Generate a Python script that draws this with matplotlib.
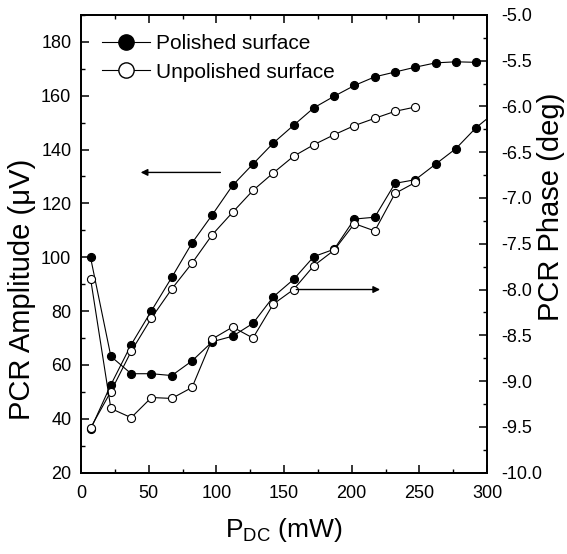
import matplotlib
matplotlib.use("Agg")
import matplotlib.pyplot as plt
from matplotlib.ticker import MultipleLocator
from matplotlib.lines import Line2D

plt.rcParams.update({
    "font.family": ["Liberation Sans", "DejaVu Sans"],
    "mathtext.default": "regular",
    "axes.unicode_minus": False,
})

# ── data ──────────────────────────────────────────────────────
power = [7, 22, 37, 52, 67, 82, 97, 112, 127, 142,
         157, 172, 187, 202, 217, 232, 247, 262, 277, 292]

amp_polished = [36.0, 52.6, 67.5, 80.1, 92.5, 105.3, 115.8, 126.7, 134.6, 142.4,
                149.0, 155.5, 159.8, 163.8, 167.0, 168.8, 170.6, 172.2, 172.6, 172.4]
amp_unpolished = [36.6, 50.1, 65.0, 77.4, 88.2, 97.8, 108.4, 116.7, 124.8, 131.3,
                  137.5, 141.8, 145.5, 148.9, 151.6, 154.2, 155.8]

power_phase_pol = power + [307]
phase_polished = [-7.65, -8.73, -8.92, -8.92, -8.94, -8.78, -8.57, -8.51, -8.37, -8.08,
                  -7.89, -7.64, -7.56, -7.23, -7.21, -6.84, -6.80, -6.63, -6.46, -6.23,
                  -6.05]
phase_unpolished = [-7.88, -9.30, -9.40, -9.18, -9.19, -9.07, -8.54, -8.41, -8.53, -8.16,
                    -8.00, -7.74, -7.57, -7.28, -7.36, -6.95, -6.83]

C = "black"

fig = plt.figure(figsize=(5.67, 5.54), dpi=100)
ax = fig.add_axes([0.143, 0.147, 0.716, 0.826])
ax2 = ax.twinx()

mk = dict(color=C, lw=0.8, marker="o", markersize=5.8, markeredgewidth=0.8)
ax.plot(power, amp_polished, markerfacecolor=C, **mk)
ax.plot(power[:len(amp_unpolished)], amp_unpolished, markerfacecolor="white", **mk)
ax2.plot(power_phase_pol, phase_polished, markerfacecolor=C, **mk)
ax2.plot(power[:len(phase_unpolished)], phase_unpolished, markerfacecolor="white", **mk)

ax.set_xlim(0, 300)
ax.set_ylim(20, 190)
ax2.set_ylim(-10, -5)

ax.xaxis.set_major_locator(MultipleLocator(50))
ax.xaxis.set_minor_locator(MultipleLocator(25))
ax.yaxis.set_major_locator(MultipleLocator(20))
ax.yaxis.set_minor_locator(MultipleLocator(10))
ax2.yaxis.set_major_locator(MultipleLocator(0.5))
ax2.yaxis.set_minor_locator(MultipleLocator(0.25))
ax2.yaxis.set_major_formatter(plt.FormatStrFormatter("%.1f"))

ax.tick_params(which="both", direction="in", top=True, right=False, labelsize=13)
ax.tick_params(which="major", length=6, width=1.1)
ax.tick_params(which="minor", length=3, width=1.0)
ax.tick_params(axis="x", which="major", pad=9)
ax.tick_params(axis="y", which="major", pad=7)
ax2.tick_params(which="both", direction="in", labelsize=13)
ax2.tick_params(which="major", length=6, width=1.1, pad=10)
ax2.tick_params(which="minor", length=3, width=1.0)

for a in (ax, ax2):
    for s in a.spines.values():
        s.set_linewidth(1.3)

ax.set_xlabel("P$_{DC}$ (mW)", fontsize=19, labelpad=10)
ax.set_ylabel("PCR Amplitude (\u03bcV)", fontsize=21)
ax2.set_ylabel("PCR Phase (deg)", fontsize=21)
ax.yaxis.set_label_coords(-0.112, 0.40)
ax2.yaxis.set_label_coords(1.122, 0.58)

# arrows pointing to the axes each pair belongs to
ax.annotate("", xy=(42, 131.5), xytext=(105, 131.5),
            arrowprops=dict(arrowstyle="-|>", color=C, lw=1.0, mutation_scale=10))
ax2.annotate("", xy=(223, -8.0), xytext=(157, -8.0),
             arrowprops=dict(arrowstyle="-|>", color=C, lw=1.0, mutation_scale=10))

handles = [
    Line2D([], [], color=C, lw=0.8, marker="o", markersize=11, markerfacecolor=C),
    Line2D([], [], color=C, lw=0.8, marker="o", markersize=11, markerfacecolor="white"),
]
ax.legend(handles, ["Polished surface", "Unpolished surface"], loc="upper left",
          bbox_to_anchor=(0.02, 0.985), frameon=False, fontsize=15,
          handlelength=2.3, handletextpad=0.3, labelspacing=0.45, borderaxespad=0.2)

fig.savefig("out.png", dpi=100)
